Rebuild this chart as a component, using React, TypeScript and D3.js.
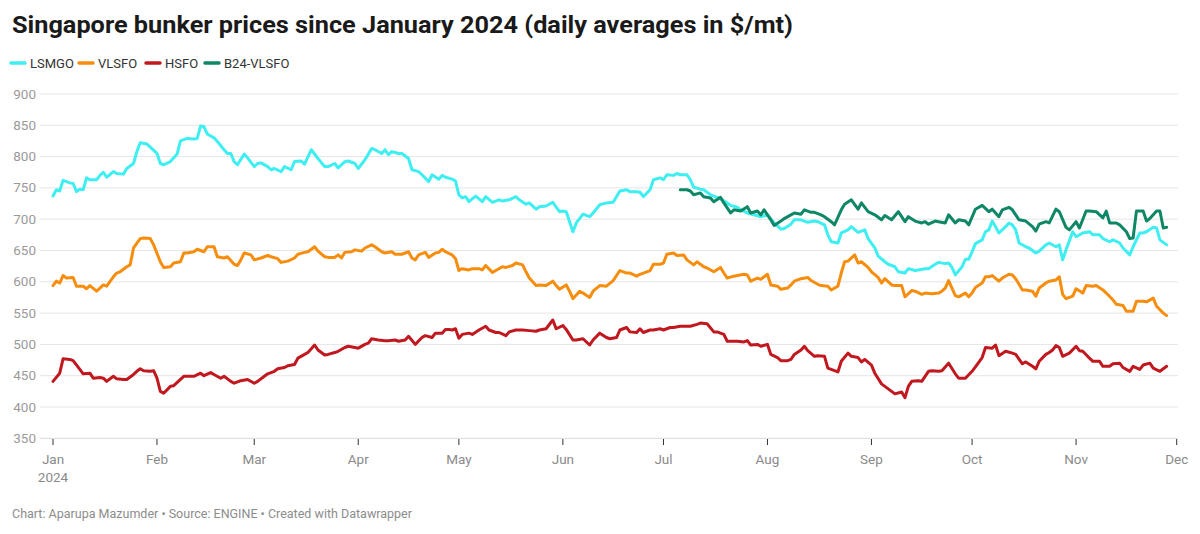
import * as d3 from "d3";

type Pt = [string, number];

const title = "Singapore bunker prices since January 2024 (daily averages in $/mt)";
const footer = "Chart: Aparupa Mazumder • Source: ENGINE • Created with Datawrapper";
const yTicks = [350, 400, 450, 500, 550, 600, 650, 700, 750, 800, 850, 900];
const monthLabels = ["Jan", "Feb", "Mar", "Apr", "May", "Jun", "Jul", "Aug", "Sep", "Oct", "Nov", "Dec"];

const lsmgo: Pt[] = [
  ["01-01", 737], ["01-02", 747], ["01-03", 745], ["01-04", 762], ["01-06", 758], ["01-07", 757], ["01-08", 744],
  ["01-09", 748], ["01-10", 747], ["01-11", 766], ["01-12", 763], ["01-14", 763], ["01-15", 770], ["01-16", 775],
  ["01-17", 767], ["01-19", 776], ["01-20", 773], ["01-22", 772], ["01-23", 781], ["01-25", 789], ["01-26", 808],
  ["01-27", 822], ["01-29", 820], ["01-30", 815], ["02-01", 805], ["02-02", 789], ["02-03", 787], ["02-05", 792],
  ["02-06", 798], ["02-07", 804], ["02-08", 825], ["02-10", 829], ["02-12", 828], ["02-13", 829], ["02-14", 849],
  ["02-15", 848], ["02-16", 836], ["02-18", 830], ["02-19", 824], ["02-21", 811], ["02-22", 805], ["02-23", 805],
  ["02-24", 792], ["02-25", 787], ["02-27", 804], ["02-28", 798], ["03-01", 784], ["03-02", 789], ["03-03", 790],
  ["03-05", 784], ["03-06", 779], ["03-07", 781], ["03-09", 776], ["03-10", 784], ["03-12", 779], ["03-13", 792],
  ["03-15", 793], ["03-16", 788], ["03-18", 811], ["03-20", 797], ["03-22", 784], ["03-23", 784], ["03-25", 789],
  ["03-26", 782], ["03-28", 792], ["03-29", 793], ["03-31", 789], ["04-01", 781], ["04-03", 795], ["04-05", 813],
  ["04-06", 811], ["04-08", 805], ["04-09", 811], ["04-10", 803], ["04-11", 808], ["04-13", 805], ["04-14", 805],
  ["04-16", 797], ["04-17", 779], ["04-19", 776], ["04-20", 771], ["04-22", 760], ["04-23", 771], ["04-25", 764],
  ["04-26", 770], ["04-27", 767], ["04-29", 764], ["04-30", 761], ["05-01", 739], ["05-02", 734], ["05-03", 736],
  ["05-04", 728], ["05-06", 737], ["05-08", 728], ["05-09", 736], ["05-11", 727], ["05-13", 731], ["05-14", 729],
  ["05-16", 731], ["05-18", 736], ["05-19", 731], ["05-21", 724], ["05-22", 726], ["05-24", 716], ["05-25", 720],
  ["05-27", 721], ["05-29", 727], ["05-31", 712], ["06-01", 713], ["06-02", 712], ["06-04", 680], ["06-05", 694],
  ["06-07", 708], ["06-09", 704], ["06-10", 710], ["06-12", 723], ["06-14", 726], ["06-16", 727], ["06-18", 745],
  ["06-20", 747], ["06-21", 744], ["06-23", 744], ["06-24", 743], ["06-25", 736], ["06-27", 747], ["06-28", 763],
  ["06-30", 766], ["07-01", 763], ["07-02", 771], ["07-04", 770], ["07-05", 773], ["07-06", 771], ["07-08", 771],
  ["07-09", 763], ["07-10", 751], ["07-12", 748], ["07-13", 747], ["07-15", 739], ["07-17", 735], ["07-18", 732],
  ["07-20", 726], ["07-21", 722], ["07-23", 719], ["07-24", 715], ["07-26", 710], ["07-28", 707], ["07-30", 704],
  ["08-01", 707], ["08-03", 694], ["08-05", 684], ["08-06", 685], ["08-08", 692], ["08-09", 699], ["08-11", 699],
  ["08-13", 695], ["08-15", 697], ["08-16", 696], ["08-18", 691], ["08-19", 675], ["08-20", 664], ["08-22", 662],
  ["08-23", 678], ["08-25", 683], ["08-26", 688], ["08-28", 679], ["08-30", 683], ["08-31", 669], ["09-02", 654],
  ["09-03", 641], ["09-05", 632], ["09-06", 628], ["09-08", 624], ["09-09", 616], ["09-11", 614], ["09-12", 621],
  ["09-14", 618], ["09-15", 619], ["09-17", 621], ["09-18", 621], ["09-20", 628], ["09-21", 631], ["09-23", 629],
  ["09-24", 630], ["09-25", 623], ["09-26", 611], ["09-28", 624], ["09-29", 636], ["09-30", 636], ["10-01", 648],
  ["10-02", 661], ["10-04", 667], ["10-05", 680], ["10-06", 683], ["10-07", 697], ["10-08", 688], ["10-09", 678],
  ["10-11", 688], ["10-12", 694], ["10-13", 691], ["10-14", 683], ["10-15", 662], ["10-17", 656], ["10-18", 654],
  ["10-20", 646], ["10-21", 649], ["10-23", 659], ["10-24", 662], ["10-26", 656], ["10-27", 659], ["10-28", 635],
  ["10-29", 651], ["10-31", 680], ["11-01", 672], ["11-03", 678], ["11-05", 680], ["11-06", 675], ["11-08", 675],
  ["11-09", 669], ["11-11", 664], ["11-12", 667], ["11-14", 662], ["11-15", 654], ["11-17", 643], ["11-18", 656],
  ["11-20", 678], ["11-21", 678], ["11-22", 680], ["11-24", 687], ["11-25", 686], ["11-26", 667], ["11-28", 659],
];

const vlsfo: Pt[] = [
  ["01-01", 594], ["01-02", 601], ["01-03", 598], ["01-04", 610], ["01-05", 606], ["01-07", 607], ["01-08", 593],
  ["01-10", 593], ["01-11", 589], ["01-12", 594], ["01-14", 585], ["01-15", 590], ["01-16", 595], ["01-17", 593],
  ["01-19", 608], ["01-20", 614], ["01-21", 616], ["01-23", 624], ["01-24", 627], ["01-25", 654], ["01-27", 669],
  ["01-28", 670], ["01-30", 669], ["01-31", 659], ["02-02", 632], ["02-03", 623], ["02-05", 624], ["02-06", 630],
  ["02-08", 632], ["02-09", 646], ["02-10", 646], ["02-12", 648], ["02-13", 652], ["02-15", 648], ["02-16", 656],
  ["02-18", 656], ["02-19", 640], ["02-21", 638], ["02-22", 640], ["02-24", 628], ["02-25", 626], ["02-26", 635],
  ["02-27", 646], ["02-29", 643], ["03-01", 635], ["03-03", 638], ["03-05", 642], ["03-06", 640], ["03-08", 637],
  ["03-09", 631], ["03-11", 633], ["03-13", 638], ["03-14", 644], ["03-16", 647], ["03-17", 648], ["03-19", 656],
  ["03-20", 649], ["03-22", 640], ["03-23", 639], ["03-25", 639], ["03-26", 643], ["03-27", 638], ["03-28", 647],
  ["03-30", 648], ["03-31", 651], ["04-02", 649], ["04-03", 654], ["04-05", 659], ["04-06", 656], ["04-08", 648],
  ["04-09", 646], ["04-11", 648], ["04-12", 644], ["04-14", 644], ["04-16", 648], ["04-17", 638], ["04-18", 635],
  ["04-19", 643], ["04-21", 647], ["04-22", 639], ["04-24", 646], ["04-25", 647], ["04-26", 652], ["04-27", 648],
  ["04-29", 643], ["04-30", 637], ["05-01", 618], ["05-02", 621], ["05-04", 619], ["05-05", 621], ["05-07", 621],
  ["05-08", 619], ["05-09", 626], ["05-11", 615], ["05-12", 618], ["05-14", 624], ["05-15", 623], ["05-17", 626],
  ["05-18", 630], ["05-20", 627], ["05-21", 616], ["05-22", 606], ["05-24", 594], ["05-25", 595], ["05-27", 594],
  ["05-29", 601], ["05-30", 594], ["05-31", 588], ["06-02", 595], ["06-03", 585], ["06-04", 573], ["06-06", 585],
  ["06-07", 582], ["06-09", 575], ["06-10", 585], ["06-12", 594], ["06-14", 593], ["06-16", 602], ["06-18", 618],
  ["06-20", 614], ["06-21", 614], ["06-23", 609], ["06-24", 612], ["06-26", 616], ["06-27", 618], ["06-28", 628],
  ["06-30", 628], ["07-01", 630], ["07-02", 644], ["07-04", 646], ["07-05", 642], ["07-07", 643], ["07-08", 635],
  ["07-10", 627], ["07-11", 632], ["07-13", 624], ["07-14", 622], ["07-16", 616], ["07-18", 623], ["07-19", 614],
  ["07-20", 606], ["07-22", 609], ["07-23", 610], ["07-25", 612], ["07-26", 611], ["07-27", 601], ["07-29", 606],
  ["07-30", 604], ["08-01", 612], ["08-02", 595], ["08-04", 593], ["08-05", 588], ["08-07", 590], ["08-08", 595],
  ["08-09", 601], ["08-11", 605], ["08-13", 607], ["08-14", 602], ["08-16", 596], ["08-17", 594], ["08-19", 593],
  ["08-20", 587], ["08-22", 593], ["08-23", 614], ["08-24", 632], ["08-25", 633], ["08-27", 643], ["08-28", 630],
  ["08-29", 632], ["08-31", 623], ["09-01", 616], ["09-03", 607], ["09-04", 598], ["09-05", 605], ["09-07", 595],
  ["09-08", 594], ["09-10", 594], ["09-11", 576], ["09-13", 586], ["09-14", 585], ["09-16", 580], ["09-17", 582],
  ["09-19", 581], ["09-21", 582], ["09-22", 585], ["09-23", 590], ["09-24", 602], ["09-25", 590], ["09-26", 578],
  ["09-27", 576], ["09-29", 582], ["09-30", 576], ["10-01", 582], ["10-02", 591], ["10-04", 598], ["10-05", 608],
  ["10-06", 608], ["10-07", 610], ["10-09", 601], ["10-10", 606], ["10-12", 612], ["10-13", 611], ["10-14", 605],
  ["10-16", 587], ["10-17", 587], ["10-19", 585], ["10-20", 577], ["10-21", 590], ["10-23", 598], ["10-24", 601],
  ["10-26", 603], ["10-27", 608], ["10-28", 580], ["10-29", 573], ["10-31", 577], ["11-01", 589], ["11-03", 582],
  ["11-04", 594], ["11-06", 593], ["11-07", 594], ["11-09", 587], ["11-10", 582], ["11-12", 571], ["11-13", 564],
  ["11-15", 562], ["11-16", 553], ["11-18", 553], ["11-19", 569], ["11-21", 569], ["11-22", 568], ["11-24", 574],
  ["11-25", 561], ["11-27", 550], ["11-28", 546],
];

const hsfo: Pt[] = [
  ["01-01", 441], ["01-03", 454], ["01-04", 477], ["01-06", 476], ["01-07", 474], ["01-09", 460], ["01-10", 453],
  ["01-12", 454], ["01-13", 446], ["01-15", 447], ["01-16", 446], ["01-17", 441], ["01-19", 449], ["01-20", 445],
  ["01-22", 444], ["01-23", 444], ["01-25", 452], ["01-26", 457], ["01-27", 461], ["01-28", 458], ["01-30", 457],
  ["01-31", 458], ["02-01", 446], ["02-02", 425], ["02-03", 422], ["02-05", 433], ["02-06", 434], ["02-08", 444],
  ["02-09", 449], ["02-11", 449], ["02-12", 449], ["02-14", 454], ["02-15", 450], ["02-17", 455], ["02-18", 452],
  ["02-20", 446], ["02-21", 449], ["02-23", 441], ["02-24", 438], ["02-26", 442], ["02-28", 444], ["03-01", 438],
  ["03-02", 441], ["03-04", 449], ["03-05", 453], ["03-07", 457], ["03-08", 461], ["03-10", 463], ["03-11", 466],
  ["03-13", 468], ["03-14", 478], ["03-16", 484], ["03-17", 487], ["03-19", 499], ["03-20", 491], ["03-22", 483],
  ["03-23", 484], ["03-25", 487], ["03-26", 489], ["03-28", 495], ["03-29", 497], ["03-31", 495], ["04-01", 494],
  ["04-03", 500], ["04-04", 502], ["04-05", 509], ["04-07", 507], ["04-09", 506], ["04-10", 506], ["04-12", 507],
  ["04-13", 505], ["04-15", 507], ["04-16", 513], ["04-18", 500], ["04-20", 511], ["04-21", 514], ["04-23", 511],
  ["04-24", 518], ["04-26", 518], ["04-27", 524], ["04-28", 524], ["04-29", 523], ["04-30", 525], ["05-01", 510],
  ["05-02", 516], ["05-04", 518], ["05-05", 516], ["05-07", 523], ["05-09", 529], ["05-10", 523], ["05-12", 519],
  ["05-13", 519], ["05-15", 514], ["05-16", 520], ["05-18", 523], ["05-20", 523], ["05-22", 522], ["05-24", 521],
  ["05-25", 523], ["05-27", 525], ["05-29", 539], ["05-30", 525], ["06-01", 530], ["06-02", 524], ["06-04", 507],
  ["06-05", 507], ["06-07", 509], ["06-09", 499], ["06-10", 507], ["06-12", 518], ["06-14", 511], ["06-15", 509],
  ["06-17", 511], ["06-18", 523], ["06-20", 527], ["06-21", 520], ["06-23", 519], ["06-24", 525], ["06-25", 519],
  ["06-27", 523], ["06-28", 523], ["06-30", 525], ["07-01", 523], ["07-03", 527], ["07-04", 527], ["07-06", 529],
  ["07-08", 529], ["07-09", 529], ["07-11", 532], ["07-12", 534], ["07-14", 533], ["07-16", 520], ["07-17", 520],
  ["07-19", 516], ["07-20", 505], ["07-22", 505], ["07-23", 505], ["07-25", 504], ["07-26", 506], ["07-27", 499],
  ["07-29", 500], ["07-30", 497], ["08-01", 500], ["08-02", 484], ["08-04", 479], ["08-05", 474], ["08-07", 474],
  ["08-08", 476], ["08-09", 484], ["08-11", 491], ["08-12", 497], ["08-13", 490], ["08-15", 481], ["08-16", 482],
  ["08-18", 481], ["08-19", 462], ["08-21", 458], ["08-22", 456], ["08-23", 473], ["08-25", 486], ["08-26", 481],
  ["08-28", 479], ["08-29", 472], ["08-30", 476], ["09-01", 467], ["09-02", 454], ["09-04", 437], ["09-05", 433],
  ["09-07", 425], ["09-08", 421], ["09-10", 424], ["09-11", 415], ["09-12", 433], ["09-13", 441], ["09-15", 442],
  ["09-16", 441], ["09-18", 457], ["09-19", 458], ["09-21", 457], ["09-22", 458], ["09-24", 470], ["09-26", 453],
  ["09-27", 446], ["09-29", 446], ["10-01", 457], ["10-02", 464], ["10-04", 479], ["10-05", 495], ["10-07", 494],
  ["10-08", 499], ["10-09", 482], ["10-11", 489], ["10-13", 486], ["10-14", 484], ["10-16", 469], ["10-17", 472],
  ["10-19", 465], ["10-20", 461], ["10-21", 473], ["10-23", 484], ["10-24", 487], ["10-25", 491], ["10-26", 498],
  ["10-27", 495], ["10-28", 481], ["10-30", 486], ["11-01", 497], ["11-02", 490], ["11-03", 489], ["11-05", 478],
  ["11-06", 473], ["11-08", 473], ["11-09", 465], ["11-11", 465], ["11-12", 469], ["11-14", 470], ["11-15", 463],
  ["11-17", 457], ["11-18", 465], ["11-20", 460], ["11-21", 467], ["11-23", 470], ["11-24", 462], ["11-26", 457],
  ["11-27", 461], ["11-28", 465],
];

const b24vlsfo: Pt[] = [
  ["07-06", 747], ["07-08", 747], ["07-09", 745], ["07-10", 739], ["07-12", 742], ["07-13", 736], ["07-15", 734],
  ["07-16", 728], ["07-18", 735], ["07-19", 726], ["07-21", 710], ["07-22", 715], ["07-24", 713], ["07-26", 720],
  ["07-27", 710], ["07-29", 713], ["07-30", 707], ["07-31", 715], ["08-02", 699], ["08-03", 690], ["08-05", 697],
  ["08-06", 701], ["08-08", 707], ["08-09", 710], ["08-11", 708], ["08-12", 715], ["08-14", 711], ["08-15", 711],
  ["08-17", 707], ["08-18", 704], ["08-20", 696], ["08-21", 691], ["08-23", 715], ["08-24", 724], ["08-26", 731],
  ["08-28", 716], ["08-29", 726], ["08-31", 712], ["09-02", 707], ["09-04", 699], ["09-05", 706], ["09-07", 699],
  ["09-09", 712], ["09-11", 696], ["09-12", 704], ["09-14", 697], ["09-16", 694], ["09-17", 696], ["09-18", 692],
  ["09-20", 697], ["09-21", 696], ["09-23", 694], ["09-24", 707], ["09-26", 694], ["09-27", 699], ["09-29", 697],
  ["09-30", 691], ["10-02", 716], ["10-04", 722], ["10-06", 712], ["10-07", 716], ["10-09", 704], ["10-10", 715],
  ["10-12", 719], ["10-13", 715], ["10-15", 699], ["10-17", 697], ["10-19", 688], ["10-20", 681], ["10-21", 692],
  ["10-23", 696], ["10-24", 694], ["10-26", 716], ["10-27", 712], ["10-29", 687], ["10-30", 683], ["11-01", 696],
  ["11-02", 686], ["11-04", 713], ["11-05", 713], ["11-07", 712], ["11-09", 702], ["11-10", 713], ["11-11", 694],
  ["11-13", 694], ["11-14", 691], ["11-16", 680], ["11-17", 669], ["11-18", 670], ["11-19", 713], ["11-21", 713],
  ["11-22", 697], ["11-23", 701], ["11-25", 713], ["11-26", 713], ["11-27", 686], ["11-28", 687],
];

const seriesNames = ["LSMGO", "VLSFO", "HSFO", "B24-VLSFO"];
const seriesColors = ["#3eeef0", "#f68d0c", "#c1171e", "#0e8767"];
const seriesData = [lsmgo, vlsfo, hsfo, b24vlsfo];

const W = 1200;
const H = 534;
const FONT = "Roboto, 'Noto Sans', sans-serif";

export default function App() {
  const parse = d3.timeParse("%Y-%m-%d");
  const x = d3
    .scaleTime()
    .domain([new Date(2024, 0, 1), new Date(2024, 11, 1)])
    .range([53, 1176.7]);
  const y = d3.scaleLinear().domain([350, 900]).range([438.3, 94]);
  const months = d3.timeMonth.range(new Date(2024, 0, 1), new Date(2024, 11, 2));

  const line = d3
    .line<Pt>()
    .x((d) => x(parse("2024-" + d[0])!))
    .y((d) => y(d[1]));

  const legendX = [11, 79, 146, 205];

  return (
    <svg
      width={W}
      height={H}
      style={{ position: "absolute", left: 0, top: 0, background: "#fff", fontFamily: FONT }}
    >
      <text x={12} y={33} fontSize={24} fontWeight={700} fill="#1a1a1a" textLength={781} lengthAdjust="spacingAndGlyphs">
        {title}
      </text>

      <g>
        {seriesNames.map((name, i) => (
          <g key={name} transform={`translate(${legendX[i]},63)`}>
            <line x1={0} x2={14} y1={0} y2={0} stroke={seriesColors[i]} strokeWidth={3.5} strokeLinecap="round" />
            <text x={19} y={4.5} fontSize={13} fill="#333">
              {name}
            </text>
          </g>
        ))}
      </g>

      <g>
        {yTicks.map((t) => (
          <g key={t}>
            <line x1={40} x2={1178} y1={y(t)} y2={y(t)} stroke={t === 350 ? "#d9d9d9" : "#e5e5e5"} strokeWidth={1} />
            <text x={36} y={y(t) + 4.5} fontSize={13.5} fill="#9a9a9a" textAnchor="end">
              {t}
            </text>
          </g>
        ))}
      </g>

      <g>
        {months.map((m, i) => (
          <g key={i} transform={`translate(${x(m)},0)`}>
            <line y1={439} y2={445} stroke="#333" strokeWidth={1} />
            <text y={464} fontSize={13.5} fill="#8a8a8a" textAnchor="middle">
              {monthLabels[i]}
            </text>
            {i === 0 && (
              <text y={482} fontSize={13.5} fill="#8a8a8a" textAnchor="middle">
                2024
              </text>
            )}
          </g>
        ))}
      </g>

      <g fill="none" strokeWidth={3} strokeLinejoin="round" strokeLinecap="round">
        {seriesData.map((data, i) => (
          <path key={seriesNames[i]} d={line(data) ?? ""} stroke={seriesColors[i]} />
        ))}
      </g>

      <text x={12} y={518} fontSize={12.5} fill="#8c8c8c">
        {footer}
      </text>
    </svg>
  );
}
